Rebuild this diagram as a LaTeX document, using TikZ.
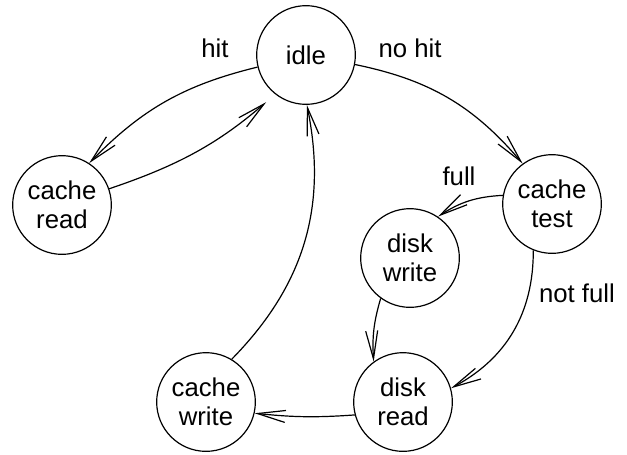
\documentclass[tikz,border=0pt]{standalone}
\usepackage{fontspec}
\setmainfont{Liberation Sans}
\usetikzlibrary{arrows.meta}
\begin{document}
\begin{tikzpicture}[x=0.75pt,y=-0.75pt,
  state/.style={draw,circle,line width=0.9pt,minimum size=74pt,inner sep=0pt,align=center,
    font=\fontsize{19.3}{21.8}\selectfont},
  lbl/.style={font=\fontsize{19.3}{21.8}\selectfont,inner sep=0pt},
  trans/.style={line width=0.9pt,-{Straight Barb[length=21pt,width=9pt]}}]
\useasboundingbox (0,0) rectangle (627,454);
\node[state] (idle) at (306,55) {idle};
\node[state] (cread) at (62,205) {cache\\read};
\node[state] (ctest) at (552,204) {cache\\test};
\node[state] (dwrite) at (410,258) {disk\\write};
\node[state] (dread) at (403,402) {disk\\read};
\node[state] (cwrite) at (206,402) {cache\\write};
\node[lbl] (lhit) at (215,48) {hit};
\node[lbl] (lnohit) at (410,48) {no hit};
\node[lbl] (lfull) at (459,176) {full};
\node[lbl] (lnotfull) at (577,293) {not full};
\draw[trans] (idle.194) to[bend right=16] (cread.57);
\draw[trans,shorten >=9pt] (cread.19) to[bend right=11] (idle.232);
\draw[trans] (idle.-11) to[bend left=19] (ctest.126);
\draw[trans] (ctest.170) to[bend right=15] (dwrite.56);
\draw[trans] (ctest.248) to[bend left=31] (dread.16);
\draw[trans] (dwrite.234) to[bend right=10] (dread.126);
\draw[trans] (dread.195) to[bend left=5] (cwrite.-13);
\draw[trans] (cwrite.59) to[bend right=28] (idle.271);
\end{tikzpicture}
\end{document}
